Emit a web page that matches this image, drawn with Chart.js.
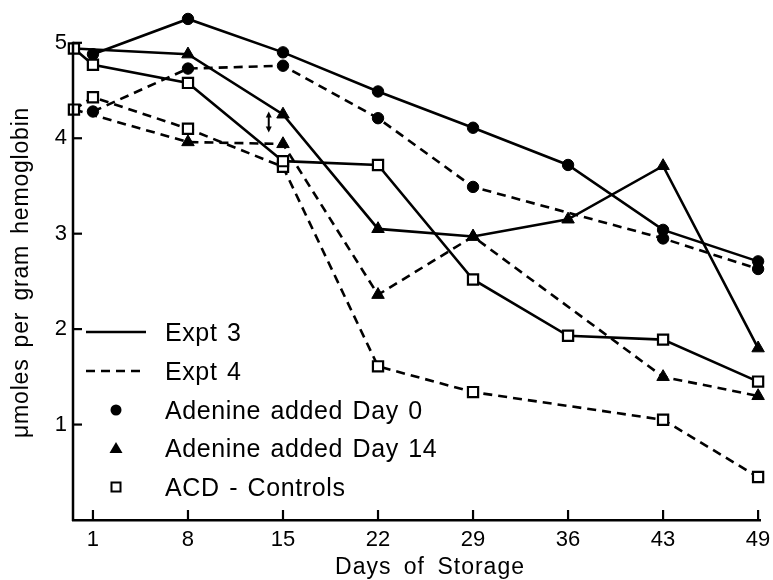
<!DOCTYPE html>
<html>
<head>
<meta charset="utf-8">
<script src="https://cdn.jsdelivr.net/npm/chart.js@4.4.1/dist/chart.umd.min.js"></script>
<style>
html,body{margin:0;padding:0;background:#fff;}
#wrap{width:773px;height:580px;position:relative;}
</style>
</head>
<body>
<div id="wrap"><canvas id="c" width="773" height="580"></canvas></div>
<script>
// ---- data ----
const dayLabels = ['1', '8', '15', '22', '29', '36', '43', '49'];
// slot 0 = starting value plotted on the y-axis, then one slot per day label
const slotX = [-0.2, 0, 1, 2, 3, 4, 5, 6, 7];
const expt3AdenineDay0  = [null, 4.88, 5.25, 4.90, 4.49, 4.11, 3.72, 3.04, 2.71];
const expt3AdenineDay14 = [4.94, null, 4.88, 4.25, 3.05, 2.97, 3.15, 3.71, 1.80];
const expt3Controls     = [4.94, 4.77, 4.58, 3.76, 3.72, 2.52, 1.93, 1.89, 1.45];
const expt4AdenineDay0  = [null, 4.28, 4.73, 4.76, 4.21, 3.49, null, 2.95, 2.63];
const expt4AdenineDay14 = [4.30, null, 3.96, 3.94, 2.36, 2.97, null, 1.50, 1.30];
const expt4Controls     = [4.30, 4.43, 4.10, 3.70, 1.61, 1.34, null, 1.05, 0.45];
const yTickValues = [1, 2, 3, 4, 5];
const xTitle = 'Days of Storage';
const yTitle = 'μmoles per gram hemoglobin';
const legendLines = ['Expt 3', 'Expt 4'];
const legendMarkers = ['Adenine added Day 0', 'Adenine added Day 14', 'ACD - Controls'];
// small double-headed arrow near day 15 (x slot, y range in data units)
const arrowNote = {x: 1.85, y1: 4.06, y2: 4.28};

const FONT = '"Liberation Sans", Arial, sans-serif';
const DASH = [9, 6];
const Y_AXIS_TOP = 5;

function pts(values, sharedStart) {
  const out = [];
  values.forEach((v, i) => {
    if (v !== null) out.push({x: slotX[i], y: v, shared: sharedStart && i === 0});
  });
  return out;
}
function ds(label, values, dash, style, fill, sharedStart) {
  const r = style === 'circle' ? 5.7 : 7.2;
  return {
    label: label,
    data: pts(values, sharedStart),
    borderColor: '#000',
    borderWidth: 2.6,
    borderDash: dash,
    pointStyle: style,
    pointBackgroundColor: fill,
    pointBorderColor: '#000',
    pointBorderWidth: style === 'rect' ? 2.2 : 1,
    pointRadius: c => (c.raw && c.raw.shared) ? 0 : r,
    pointHoverRadius: c => (c.raw && c.raw.shared) ? 0 : r,
    tension: 0,
    fill: false,
    clip: false
  };
}

function setSpacing(ctx, ls, ws) {
  try { ctx.letterSpacing = ls; } catch (e) {}
  try { ctx.wordSpacing = ws; } catch (e) {}
}

const axisDecor = {
  id: 'axisDecor',
  afterDraw(chart) {
    const {ctx, chartArea: a, scales: {x, y}} = chart;
    ctx.save();
    ctx.strokeStyle = '#000';
    ctx.fillStyle = '#000';
    // y axis line from 0 to top tick
    ctx.lineWidth = 2.5;
    ctx.beginPath();
    ctx.moveTo(a.left, y.getPixelForValue(0) + 1);
    ctx.lineTo(a.left, y.getPixelForValue(Y_AXIS_TOP) - 1);
    ctx.stroke();
    // inward ticks
    ctx.lineWidth = 2.2;
    yTickValues.forEach(v => {
      const py = y.getPixelForValue(v);
      ctx.beginPath(); ctx.moveTo(a.left, py); ctx.lineTo(a.left + 9, py); ctx.stroke();
    });
    dayLabels.forEach((_, i) => {
      const px = x.getPixelForValue(i);
      ctx.beginPath(); ctx.moveTo(px, a.bottom); ctx.lineTo(px, a.bottom - 10); ctx.stroke();
    });
    // arrow annotation
    const ax = x.getPixelForValue(arrowNote.x);
    const ay1 = y.getPixelForValue(arrowNote.y1);
    const ay2 = y.getPixelForValue(arrowNote.y2);
    ctx.lineWidth = 2;
    ctx.beginPath(); ctx.moveTo(ax, ay1 - 3); ctx.lineTo(ax, ay2 + 3); ctx.stroke();
    ctx.beginPath(); ctx.moveTo(ax, ay2); ctx.lineTo(ax - 3, ay2 + 6); ctx.lineTo(ax + 3, ay2 + 6); ctx.closePath(); ctx.fill();
    ctx.beginPath(); ctx.moveTo(ax, ay1); ctx.lineTo(ax - 3, ay1 - 6); ctx.lineTo(ax + 3, ay1 - 6); ctx.closePath(); ctx.fill();
    // axis titles
    ctx.textAlign = 'center';
    ctx.textBaseline = 'middle';
    ctx.font = '23px ' + FONT;
    setSpacing(ctx, '1px', '5px');
    ctx.fillText(xTitle, 430, 568);
    ctx.save();
    ctx.translate(22, (y.getPixelForValue(0) + y.getPixelForValue(Y_AXIS_TOP)) / 2 - 9);
    ctx.rotate(-Math.PI / 2);
    ctx.font = '23px ' + FONT;
    setSpacing(ctx, '0.8px', '4px');
    ctx.fillText(yTitle, 0, 0);
    ctx.restore();
    ctx.restore();
  }
};

const customLegend = {
  id: 'customLegend',
  afterDraw(chart) {
    const {ctx, chartArea: a} = chart;
    const x0 = a.left + 13, x1 = a.left + 73, tx = a.left + 92;
    const rowY = [332, 371, 410, 448, 487];
    ctx.save();
    ctx.fillStyle = '#000';
    ctx.strokeStyle = '#000';
    ctx.font = '25px ' + FONT;
    ctx.textBaseline = 'middle';
    ctx.textAlign = 'left';
    setSpacing(ctx, '0.6px', '2px');
    legendLines.forEach((t, i) => {
      ctx.lineWidth = 2.6;
      ctx.setLineDash(i === 0 ? [] : DASH);
      ctx.beginPath(); ctx.moveTo(x0, rowY[i]); ctx.lineTo(x1, rowY[i]); ctx.stroke();
      ctx.setLineDash([]);
      ctx.fillText(t, tx, rowY[i] + 2);
    });
    const mx = (x0 + x1) / 2;
    legendMarkers.forEach((t, j) => {
      const yy = rowY[j + 2];
      ctx.setLineDash([]);
      if (j === 0) {
        ctx.beginPath(); ctx.arc(mx, yy, 5.5, 0, Math.PI * 2); ctx.fill();
      } else if (j === 1) {
        ctx.beginPath(); ctx.moveTo(mx, yy - 6); ctx.lineTo(mx + 6.5, yy + 5); ctx.lineTo(mx - 6.5, yy + 5); ctx.closePath(); ctx.fill();
      } else {
        ctx.lineWidth = 2;
        ctx.fillStyle = '#fff';
        ctx.fillRect(mx - 4.5, yy - 4.5, 9, 9);
        ctx.strokeRect(mx - 4.5, yy - 4.5, 9, 9);
        ctx.fillStyle = '#000';
      }
      ctx.fillText(t, tx, yy + 2);
    });
    ctx.restore();
  }
};

const bg = {
  id: 'bg',
  beforeDraw(chart) {
    const {ctx, width, height} = chart;
    ctx.save(); ctx.fillStyle = '#fff'; ctx.fillRect(0, 0, width, height); ctx.restore();
  }
};

new Chart(document.getElementById('c'), {
  type: 'line',
  data: {
    datasets: [
      ds('Expt 3 ACD - Controls', expt3Controls, [], 'rect', '#fff', false),
      ds('Expt 4 ACD - Controls', expt4Controls, DASH, 'rect', '#fff', false),
      ds('Expt 3 Adenine added Day 0', expt3AdenineDay0, [], 'circle', '#000', false),
      ds('Expt 4 Adenine added Day 0', expt4AdenineDay0, DASH, 'circle', '#000', false),
      ds('Expt 3 Adenine added Day 14', expt3AdenineDay14, [], 'triangle', '#000', true),
      ds('Expt 4 Adenine added Day 14', expt4AdenineDay14, DASH, 'triangle', '#000', true)
    ]
  },
  options: {
    responsive: false,
    animation: false,
    events: [],
    layout: {padding: {left: 0, right: 13, top: 6.4, bottom: 0}},
    plugins: {legend: {display: false}, tooltip: {enabled: false}},
    scales: {
      x: {
        type: 'linear',
        min: -0.21,
        max: 7.02,
        afterBuildTicks: s => { s.ticks = dayLabels.map((_, i) => ({value: i})); },
        afterFit: s => { s.height = 60; s.paddingLeft = 0; s.paddingRight = 0; },
        ticks: {
          callback: v => dayLabels[v] !== undefined ? dayLabels[v] : '',
          font: {family: FONT, size: 22},
          color: '#000',
          padding: 7,
          maxRotation: 0,
          autoSkip: false
        },
        grid: {display: false, drawTicks: false},
        border: {display: true, color: '#000', width: 2.5},
        title: {display: false}
      },
      y: {
        type: 'linear',
        min: 0,
        max: 5.35,
        afterBuildTicks: s => { s.ticks = yTickValues.map(v => ({value: v})); },
        afterFit: s => { s.width = 73; s.paddingTop = 0; s.paddingBottom = 0; },
        ticks: {
          font: {family: FONT, size: 22},
          color: '#000',
          padding: 6
        },
        grid: {display: false, drawTicks: false},
        border: {display: false},
        title: {display: false}
      }
    }
  },
  plugins: [bg, axisDecor, customLegend]
});
</script>
</body>
</html>
